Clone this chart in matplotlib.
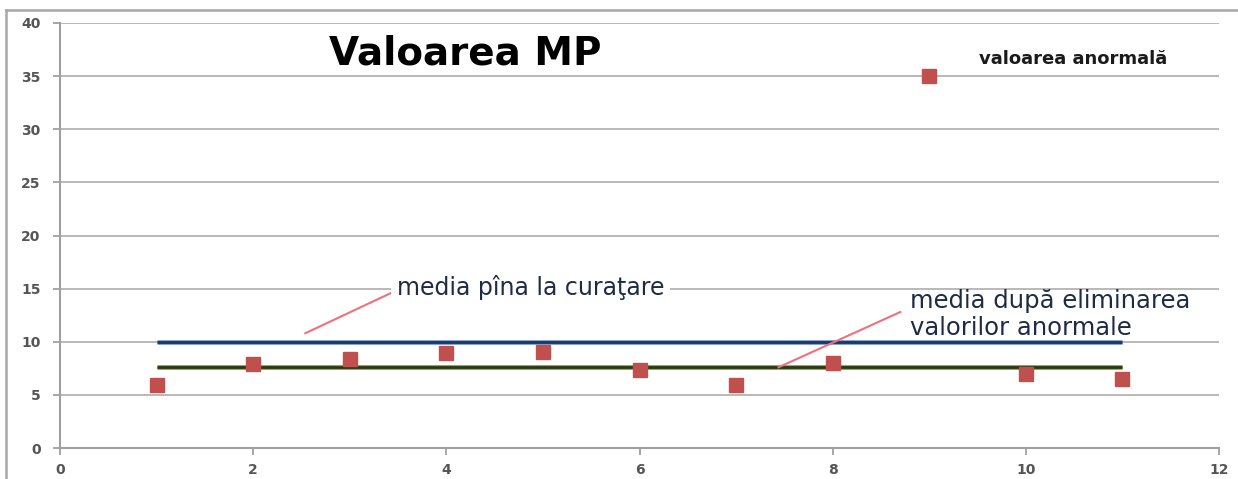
import matplotlib
matplotlib.use("Agg")
import matplotlib.pyplot as plt
import matplotlib.patheffects as pe
from matplotlib.lines import Line2D

# Measured MP values per sample index
sample_idx = [1, 2, 3, 4, 5, 6, 7, 8, 9, 10, 11]
mp_values = [5.9, 7.9, 8.35, 8.9, 9.05, 7.35, 5.9, 8.0, 35.0, 6.95, 6.5]

# Mean before cleaning and after removing the abnormal value
mean_before = 10.0
mean_after = 7.6
mean_span = [1, 11]

x_ticks = [0, 2, 4, 6, 8, 10, 12]
y_ticks = [0, 5, 10, 15, 20, 25, 30, 35, 40]

W, H = 1238, 479
fig = plt.figure(figsize=(W / 100, H / 100), dpi=100)
fig.patch.set_facecolor("white")

ax = fig.add_axes([60 / W, 1 - 448 / H, (1219 - 60) / W, (448 - 23) / H])
ax.set_xlim(0, 12)
ax.set_ylim(0, 40)
ax.set_xticks(x_ticks)
ax.set_yticks(y_ticks)

# horizontal gridlines
ax.grid(axis="y", color="#B3B3B3", linewidth=1.3)
ax.grid(axis="x", visible=False)
ax.set_axisbelow(True)
for s in ("top", "right"):
    ax.spines[s].set_visible(False)
for s in ("left", "bottom"):
    ax.spines[s].set_color("#A0A0A0")
    ax.spines[s].set_linewidth(1.5)
ax.tick_params(axis="both", colors="#A0A0A0", length=5, width=1.3,
               labelcolor="#555555", labelsize=10)
ax.tick_params(axis="y", pad=9)
ax.tick_params(axis="x", pad=6)
for lab in ax.get_xticklabels() + ax.get_yticklabels():
    lab.set_fontweight("bold")

# mean lines
ax.plot(mean_span, [mean_before] * 2, color="#17375E", linewidth=2.0,
        solid_capstyle="butt", zorder=3,
        path_effects=[pe.Stroke(linewidth=3.4, foreground="#7694C4"), pe.Normal()])
ax.plot(mean_span, [mean_after] * 2, color="#2A3A0E", linewidth=2.0,
        solid_capstyle="butt", zorder=3,
        path_effects=[pe.Stroke(linewidth=3.4, foreground="#7E9E34"), pe.Normal()])

# sample values
ax.plot(sample_idx, mp_values, linestyle="none", marker="s", markersize=10,
        color="#C0504D", markeredgecolor="#C0504D", zorder=4)

# annotations
pink = "#F0707C"
text_col = "#1F2B45"
ax.plot([2.54, 3.43], [10.8, 14.6], color=pink, linewidth=1.5, zorder=3)
ax.text(3.49, 15.15, "media pîna la curaţare", fontsize=17, color=text_col,
        ha="left", va="center", zorder=5,
        bbox=dict(boxstyle="square,pad=0.25", fc="white", ec="none"))

ax.plot([7.44, 8.70], [7.6, 12.8], color=pink, linewidth=1.5, zorder=3)
ax.text(8.80, 13.85, "media după eliminarea", fontsize=17.5, color=text_col,
        ha="left", va="center", zorder=5)
ax.text(8.80, 11.3, "valorilor anormale", fontsize=17.5, color=text_col,
        ha="left", va="center", zorder=5)

ax.text((465 - 60) / 96.55, 37.1, "Valoarea MP", fontsize=28,
        fontweight="bold", color="black", ha="center", va="center")
ax.text((1073 - 60) / 96.55, 36.6, "valoarea anormală", fontsize=13,
        fontweight="bold", color="#1A1A1A", ha="center", va="center")

# outer chart border
fig.add_artist(Line2D([6 / W, 6 / W], [0, 1 - 10 / H], color="#A8A8A8",
                      linewidth=1.8, transform=fig.transFigure))
fig.add_artist(Line2D([6 / W, 1], [1 - 10 / H, 1 - 10 / H], color="#A8A8A8",
                      linewidth=1.8, transform=fig.transFigure))

fig.savefig("out.png", dpi=100, facecolor="white")
